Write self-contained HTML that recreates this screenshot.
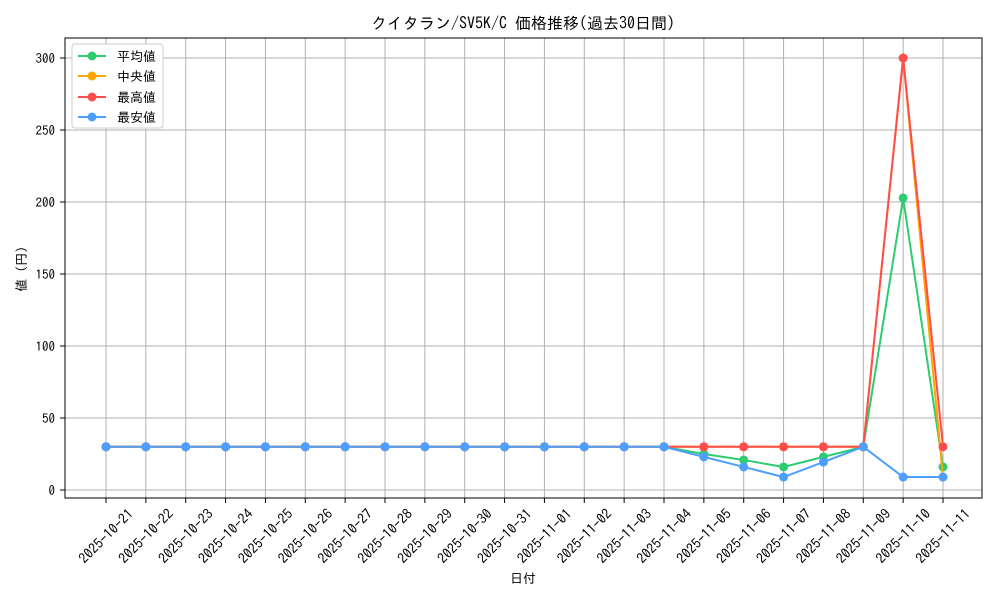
<!DOCTYPE html>
<html><head><meta charset="utf-8"><style>
body{margin:0;background:#fff;}
svg{display:block;font-family:"IPAGothic","Noto Sans CJK JP",monospace;}
</style></head><body>
<svg id="s" width="1000" height="600" xmlns="http://www.w3.org/2000/svg">
<rect width="1000" height="600" fill="#fff"/>
<g id="grid" stroke="#b0b0b0" stroke-width="1"></g>
<rect x="65" y="38" width="917" height="460" fill="none" stroke="#000" stroke-width="1"/>
<g id="ticks"></g>
<g id="series"></g>
<text x="523" y="29" font-size="16" text-anchor="middle">クイタラン/SV5K/C 価格推移(過去30日間)</text>
<text x="523" y="583" font-size="13" text-anchor="middle">日付</text>
<text x="0" y="0" font-size="13" text-anchor="middle" transform="translate(26,269) rotate(-90)">値 (円)</text>
<g id="legend">
<rect x="72" y="44" width="91" height="84" fill="#fff" stroke="#ccc" rx="3"/>
<line x1="78" y1="56" x2="106" y2="56" stroke="#2ecc71" stroke-width="2"/><circle cx="92" cy="56" r="4.5" fill="#2ecc71"/><text x="117" y="61" font-size="13">平均値</text>
<line x1="78" y1="76" x2="106" y2="76" stroke="#ffa500" stroke-width="2"/><circle cx="92" cy="76" r="4.5" fill="#ffa500"/><text x="117" y="81" font-size="13">中央値</text>
<line x1="78" y1="97" x2="106" y2="97" stroke="#ff4d4d" stroke-width="2"/><circle cx="92" cy="97" r="4.5" fill="#ff4d4d"/><text x="117" y="102" font-size="13">最高値</text>
<line x1="78" y1="117" x2="106" y2="117" stroke="#4d9fff" stroke-width="2"/><circle cx="92" cy="117" r="4.5" fill="#4d9fff"/><text x="117" y="122" font-size="13">最安値</text>
</g>
</svg>
<script>
var NS="http://www.w3.org/2000/svg";
function el(p,t,a,txt){var e=document.createElementNS(NS,t);for(var k in a)e.setAttribute(k,a[k]);if(txt!==undefined)e.textContent=txt;document.getElementById(p).appendChild(e);return e;}
var dates=[];for(var d=21;d<=31;d++)dates.push("2025-10-"+d);for(var d=1;d<=11;d++)dates.push("2025-11-"+(d<10?"0"+d:d));
function X(i){return 106+i*39.857;}function Y(v){return 490-1.44*v;}
dates.forEach(function(t,i){var x=X(i);
el("grid","line",{x1:x,y1:38,x2:x,y2:498});
el("ticks","line",{x1:x,y1:498,x2:x,y2:503,stroke:"#000"});
el("ticks","text",{x:0,y:5,"font-size":"14","text-anchor":"middle",transform:"translate("+x+",536) rotate(-45)"},t);});
[0,50,100,150,200,250,300].forEach(function(v){var y=Y(v);
el("grid","line",{x1:65,y1:y,x2:982,y2:y});
el("ticks","line",{x1:60,y1:y,x2:65,y2:y,stroke:"#000"});
el("ticks","text",{x:55,y:y+5,"font-size":"13","text-anchor":"end"},v);});
var base=[];for(var i=0;i<15;i++)base.push(30);
var S=[
["#2ecc71",base.concat([25,20.8,16,23,30,202.8,16])],
["#ffa500",base.concat([30,30,30,30,30,300,9])],
["#ff4d4d",base.concat([30,30,30,30,30,300,30])],
["#4d9fff",base.concat([23,16,9,19.4,30,9,9])]];
S.forEach(function(s){var pts=s[1].map(function(v,i){return X(i)+","+Y(v);}).join(" ");
el("series","polyline",{points:pts,fill:"none",stroke:s[0],"stroke-width":"2"});
s[1].forEach(function(v,i){el("series","circle",{cx:X(i),cy:Y(v),r:4.5,fill:s[0]});});});
</script>
</body></html>
